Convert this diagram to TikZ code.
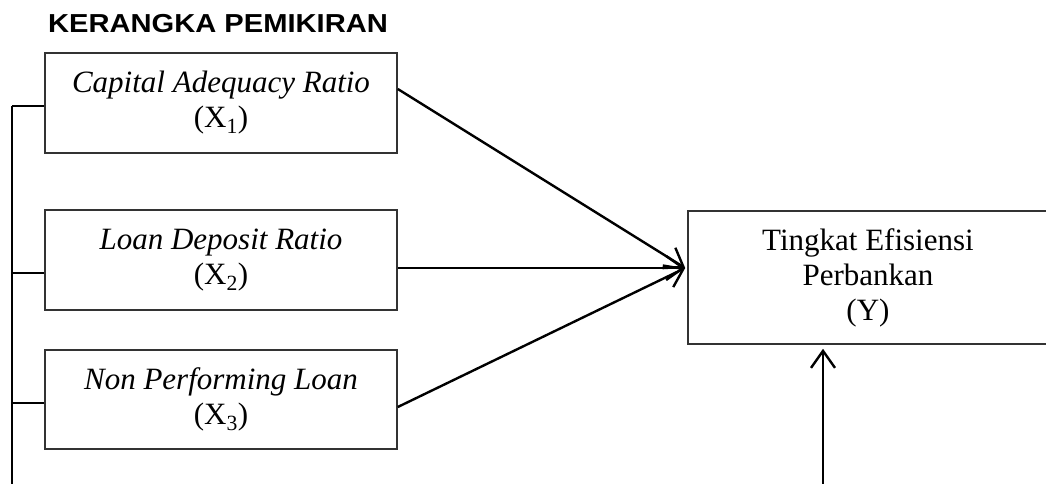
\documentclass[tikz,border=0pt]{standalone}
\usepackage{fontspec}
\setmainfont{Liberation Serif}
\newfontfamily\titlefont{Liberation Sans}
\usetikzlibrary{arrows.meta}
\tikzset{
  varbox/.style={draw=black!80, line width=1.6pt, rectangle, inner sep=0pt, align=center,
    font=\fontsize{31}{35}\selectfont},
  conn/.style={line width=2.4pt, black},
  arr/.style={conn, -{Straight Barb[length=17pt,width=24pt,line width=2.4pt]}},
}
\begin{document}
\begin{tikzpicture}[x=1pt,y=-1pt]
\useasboundingbox (0,0) rectangle (1046,484);
\clip (0,0) rectangle (1046,484);
\node[anchor=base west, inner sep=0pt] (title) at (48,33)
  {\scalebox{1.12}[1]{\titlefont\bfseries\fontsize{26}{30}\selectfont KERANGKA PEMIKIRAN}};
\node[varbox, minimum width=352pt, minimum height=100pt] (b1) at (221,103)
  {\textit{Capital Adequacy Ratio}\\(X\textsubscript{1})};
\node[varbox, minimum width=352pt, minimum height=100pt] (b2) at (221,260)
  {\textit{Loan Deposit Ratio}\\(X\textsubscript{2})};
\node[varbox, minimum width=352pt, minimum height=99pt] (b3) at (221,399.5)
  {\textit{Non Performing Loan}\\(X\textsubscript{3})};
\node[varbox, minimum width=360pt, minimum height=133pt] (y) at (868,277.5)
  {Tingkat Efisiensi\\Perbankan\\(Y)};
\coordinate (tip) at ([xshift=-2pt,yshift=9.5pt]y.west);
\draw[arr] ([yshift=14pt]b1.east) -- (tip);
\draw[arr] ([yshift=-8pt]b2.east) -- (tip);
\draw[arr] ([yshift=-7.5pt]b3.east) -- (tip);
% left bus
\coordinate (bustop) at (12,106);
\coordinate (busbot) at (12,486);
\draw[conn] (bustop) -- (busbot);
\draw[conn] (bustop) -- ([yshift=-3pt]b1.west);
\draw[conn] (bustop |- 0,273) -- ([yshift=-13pt]b2.west);
\draw[conn] (bustop |- 0,403) -- ([yshift=-3.5pt]b3.west);
% bottom arrow
\coordinate (ybot) at (823,486);
\draw[arr, shorten >=4pt] (ybot) -- (ybot |- y.south);
\end{tikzpicture}
\end{document}
